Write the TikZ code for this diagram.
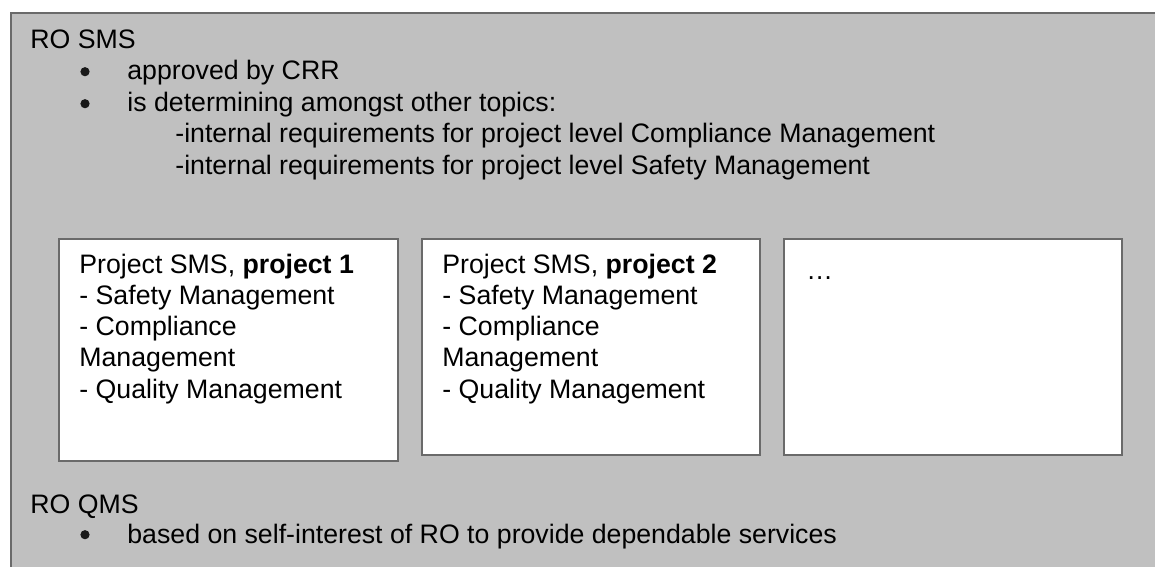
\documentclass[tikz,border=0pt]{standalone}
\usepackage{fontspec}
\setmainfont{Liberation Sans}
\usetikzlibrary{positioning}

\definecolor{panelgrey}{HTML}{C0C0C0}
\definecolor{framegrey}{HTML}{6A6A6A}

\tikzset{
  txt/.style={anchor=base west, inner sep=0pt, align=left,
    font=\fontsize{13.35bp}{15.6bp}\selectfont},
  boxtxt/.style={txt, anchor=north west},
  dot/.style={circle, fill=black!90, inner sep=0pt, minimum size=4.6bp},
  panel/.style={draw=framegrey, fill=panelgrey, line width=1bp,
    anchor=north west, inner sep=0pt},
  projbox/.style={draw=framegrey, fill=white, line width=1bp,
    anchor=north west, inner sep=0pt}
}

\begin{document}
\begin{tikzpicture}[x=0.5bp,y=-0.5bp]
  \fill[white] (0,0) rectangle (1155,567);
  \useasboundingbox (0,0) rectangle (1155,567);
  \clip (0,0) rectangle (1155,567);

  % grey frame, runs off to the right and bottom
  \node[panel, minimum width=600bp, minimum height=300bp] (rosms) at (10,12.5) {};

  % RO SMS
  \node[txt] (smstitle) at (30,49) {RO SMS};
  \node[dot] (b1) at (85,71.7) {};
  \node[txt] (crr) at (127,80) {approved by CRR};
  \node[dot] (b2) at (85,103.7) {};
  \node[txt] (topics) at (127,112) {is determining amongst other topics:};
  \node[txt] (reqcm) at (175,143) {-internal requirements for project level Compliance Management};
  \node[txt] (reqsm) at (175,174) {-internal requirements for project level Safety Management};

  % project level boxes
  \node[projbox, minimum width=169.75bp, minimum height=111bp] (proj1) at (57.5,238) {};
  \node[projbox, minimum width=169bp, minimum height=108bp] (proj2) at (421,238) {};
  \node[projbox, minimum width=169bp, minimum height=108bp] (proj3) at (783,238) {};

  \node[boxtxt] (proj1txt) at ([shift={(21.5,15.6)}]proj1.north west)
    {Project SMS, \textbf{project 1}\\- Safety Management\\- Compliance\\Management\\- Quality Management};
  \node[boxtxt] (proj2txt) at ([shift={(21,15.6)}]proj2.north west)
    {Project SMS, \textbf{project 2}\\- Safety Management\\- Compliance\\Management\\- Quality Management};
  \node[txt] (more) at ([shift={(23,41)}]proj3.north west) {…};

  % RO QMS
  \node[txt] (qmstitle) at (30,513) {RO QMS};
  \node[dot] (b3) at (85,534.7) {};
  \node[txt] (selfint) at (127,543) {based on self-interest of RO to provide dependable services};
\end{tikzpicture}
\end{document}
